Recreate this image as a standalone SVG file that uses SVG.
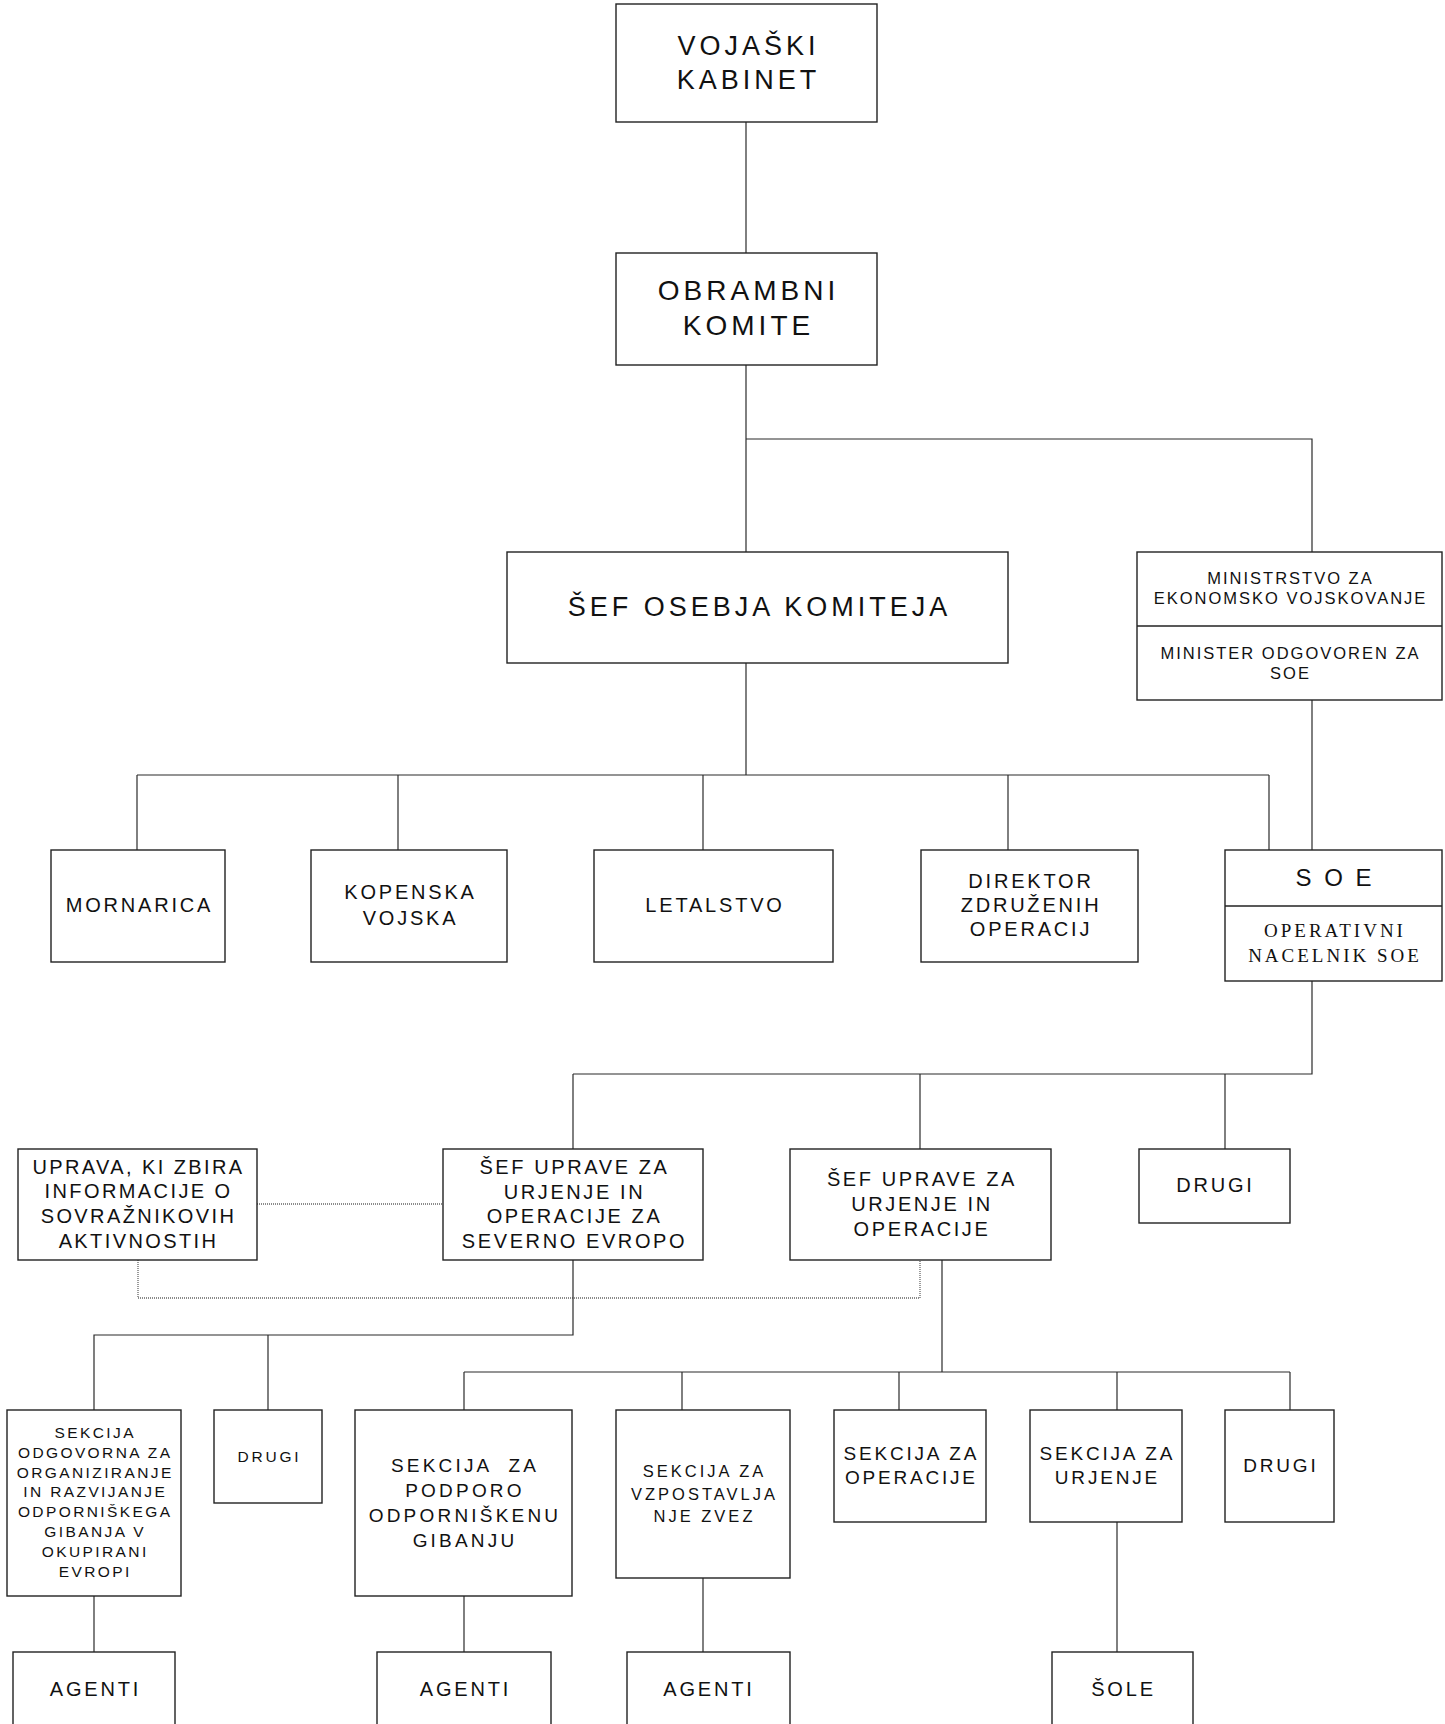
<svg xmlns="http://www.w3.org/2000/svg" width="1445" height="1724" viewBox="0 0 1445 1724">
<style>
  .box { fill: #ffffff; stroke: #222222; stroke-width: 1.4; }
  .div { stroke: #222222; stroke-width: 1.4; fill: none; }
  .ln { stroke: #2a2a2a; stroke-width: 1.2; fill: none; }
  .dot { stroke: #666666; stroke-width: 1.3; fill: none; stroke-dasharray: 1 1; }
  text { font-family: "Liberation Sans", Arial, sans-serif; fill: #111111; text-anchor: middle; }
  .t1 { font-size: 27px; letter-spacing: 4px; }
  .t2 { font-size: 20px; letter-spacing: 2.8px; }
  .t3 { font-size: 16.5px; letter-spacing: 2px; }
  .t4 { font-size: 19px; letter-spacing: 2.8px; }
  .t5 { font-size: 15.5px; letter-spacing: 2.4px; }
  .t6 { font-size: 16.5px; letter-spacing: 3px; }
  .soe { font-size: 24px; letter-spacing: 3px; }
  .serif { font-family: "Liberation Serif", "Times New Roman", serif; font-size: 19px; letter-spacing: 3px; }
</style>

<g id="connectors">
  <line class="ln" x1="746" y1="122" x2="746" y2="253"/>
  <line class="ln" x1="746" y1="365" x2="746" y2="552"/>
  <polyline class="ln" points="746,439 1312,439 1312,552"/>
  <line class="ln" x1="746" y1="663" x2="746" y2="775"/>
  <line class="ln" x1="137" y1="775" x2="1269" y2="775"/>
  <line class="ln" x1="137" y1="775" x2="137" y2="850"/>
  <line class="ln" x1="398" y1="775" x2="398" y2="850"/>
  <line class="ln" x1="703" y1="775" x2="703" y2="850"/>
  <line class="ln" x1="1008" y1="775" x2="1008" y2="850"/>
  <line class="ln" x1="1269" y1="775" x2="1269" y2="850"/>
  <line class="ln" x1="1312" y1="700" x2="1312" y2="850"/>
  <polyline class="ln" points="1312,981 1312,1074 573,1074"/>
  <line class="ln" x1="573" y1="1074" x2="573" y2="1149"/>
  <line class="ln" x1="920" y1="1074" x2="920" y2="1149"/>
  <line class="ln" x1="1225" y1="1074" x2="1225" y2="1149"/>
  <line class="dot" x1="257" y1="1204" x2="443" y2="1204"/>
  <polyline class="dot" points="138,1260 138,1298 920,1298 920,1260"/>
  <polyline class="ln" points="573,1260 573,1335 94,1335 94,1410"/>
  <line class="ln" x1="268" y1="1335" x2="268" y2="1410"/>
  <line class="ln" x1="942" y1="1260" x2="942" y2="1372"/>
  <line class="ln" x1="464" y1="1372" x2="1290" y2="1372"/>
  <line class="ln" x1="464" y1="1372" x2="464" y2="1410"/>
  <line class="ln" x1="682" y1="1372" x2="682" y2="1410"/>
  <line class="ln" x1="899" y1="1372" x2="899" y2="1410"/>
  <line class="ln" x1="1117" y1="1372" x2="1117" y2="1410"/>
  <line class="ln" x1="1290" y1="1372" x2="1290" y2="1410"/>
  <line class="ln" x1="94" y1="1596" x2="94" y2="1652"/>
  <line class="ln" x1="464" y1="1596" x2="464" y2="1652"/>
  <line class="ln" x1="703" y1="1578" x2="703" y2="1652"/>
  <line class="ln" x1="1117" y1="1522" x2="1117" y2="1652"/>
</g>

<g id="vojaski-kabinet">
  <rect class="box" x="616" y="4" width="261" height="118"/>
  <text class="t1"><tspan x="748.5" y="55">VOJAŠKI</tspan><tspan x="748.5" y="89">KABINET</tspan></text>
</g>
<g id="obrambni-komite">
  <rect class="box" x="616" y="253" width="261" height="112"/>
  <text class="t1" style="font-size:28px"><tspan x="748.5" y="300">OBRAMBNI</tspan><tspan x="748.5" y="335">KOMITE</tspan></text>
</g>
<g id="sef-osebja">
  <rect class="box" x="507" y="552" width="501" height="111"/>
  <text class="t1"><tspan x="759.5" y="616">ŠEF OSEBJA KOMITEJA</tspan></text>
</g>
<g id="ministrstvo">
  <rect class="box" x="1137" y="552" width="305" height="148"/>
  <line class="div" x1="1137" y1="626" x2="1442" y2="626"/>
  <text class="t3"><tspan x="1290.5" y="584">MINISTRSTVO ZA</tspan><tspan x="1290.5" y="604">EKONOMSKO VOJSKOVANJE</tspan></text>
  <text class="t3"><tspan x="1290.5" y="659">MINISTER ODGOVOREN ZA</tspan><tspan x="1290.5" y="679">SOE</tspan></text>
</g>
<g id="mornarica">
  <rect class="box" x="51" y="850" width="174" height="112"/>
  <text class="t2"><tspan x="139.5" y="912">MORNARICA</tspan></text>
</g>
<g id="kopenska-vojska">
  <rect class="box" x="311" y="850" width="196" height="112"/>
  <text class="t2"><tspan x="410.5" y="899">KOPENSKA</tspan><tspan x="410.5" y="925">VOJSKA</tspan></text>
</g>
<g id="letalstvo">
  <rect class="box" x="594" y="850" width="239" height="112"/>
  <text class="t2"><tspan x="715" y="912">LETALSTVO</tspan></text>
</g>
<g id="direktor">
  <rect class="box" x="921" y="850" width="217" height="112"/>
  <text class="t2"><tspan x="1031" y="888">DIREKTOR</tspan><tspan x="1031" y="912">ZDRUŽENIH</tspan><tspan x="1031" y="936">OPERACIJ</tspan></text>
</g>
<g id="soe">
  <rect class="box" x="1225" y="850" width="217" height="131"/>
  <line class="div" x1="1225" y1="906" x2="1442" y2="906"/>
  <text class="soe"><tspan x="1335" y="886">S O E</tspan></text>
  <text class="serif"><tspan x="1335" y="937">OPERATIVNI</tspan><tspan x="1335" y="962">NACELNIK SOE</tspan></text>
</g>
<g id="uprava">
  <rect class="box" x="18" y="1149" width="239" height="111"/>
  <text class="t2" style="letter-spacing:2.4px"><tspan x="138.5" y="1174">UPRAVA, KI ZBIRA</tspan><tspan x="138.5" y="1198">INFORMACIJE O</tspan><tspan x="138.5" y="1223">SOVRAŽNIKOVIH</tspan><tspan x="138.5" y="1248">AKTIVNOSTIH</tspan></text>
</g>
<g id="sef-uprave-severno">
  <rect class="box" x="443" y="1149" width="260" height="111"/>
  <text class="t2" style="letter-spacing:2.6px"><tspan x="574.5" y="1174">ŠEF UPRAVE ZA</tspan><tspan x="574.5" y="1199">URJENJE IN</tspan><tspan x="574.5" y="1223">OPERACIJE ZA</tspan><tspan x="574.5" y="1248">SEVERNO EVROPO</tspan></text>
</g>
<g id="sef-uprave">
  <rect class="box" x="790" y="1149" width="261" height="111"/>
  <text class="t2" style="letter-spacing:2.6px"><tspan x="922" y="1186">ŠEF UPRAVE ZA</tspan><tspan x="922" y="1211">URJENJE IN</tspan><tspan x="922" y="1236">OPERACIJE</tspan></text>
</g>
<g id="drugi-1">
  <rect class="box" x="1139" y="1149" width="151" height="74"/>
  <text class="t2"><tspan x="1215.5" y="1192">DRUGI</tspan></text>
</g>
<g id="sekcija-odgovorna">
  <rect class="box" x="7" y="1410" width="174" height="186"/>
  <text class="t5"><tspan x="95.2" y="1438">SEKCIJA</tspan><tspan x="95.2" y="1458">ODGOVORNA ZA</tspan><tspan x="95.2" y="1478">ORGANIZIRANJE</tspan><tspan x="95.2" y="1497">IN RAZVIJANJE</tspan><tspan x="95.2" y="1517">ODPORNIŠKEGA</tspan><tspan x="95.2" y="1537">GIBANJA V</tspan><tspan x="95.2" y="1557">OKUPIRANI</tspan><tspan x="95.2" y="1577">EVROPI</tspan></text>
</g>
<g id="drugi-2">
  <rect class="box" x="214" y="1410" width="108" height="93"/>
  <text class="t5" style="letter-spacing:2.8px"><tspan x="269.4" y="1462">DRUGI</tspan></text>
</g>
<g id="sekcija-podporo">
  <rect class="box" x="355" y="1410" width="217" height="186"/>
  <text class="t4" style="letter-spacing:3.2px" xml:space="preserve"><tspan x="465" y="1472" style="white-space:pre">SEKCIJA  ZA</tspan><tspan x="465" y="1497">PODPORO</tspan><tspan x="465" y="1522">ODPORNIŠKENU</tspan><tspan x="465" y="1547">GIBANJU</tspan></text>
</g>
<g id="sekcija-vzpostavlja">
  <rect class="box" x="616" y="1410" width="174" height="168"/>
  <text class="t6"><tspan x="704.5" y="1477">SEKCIJA ZA</tspan><tspan x="704.5" y="1500">VZPOSTAVLJA</tspan><tspan x="704.5" y="1522">NJE ZVEZ</tspan></text>
</g>
<g id="sekcija-operacije">
  <rect class="box" x="834" y="1410" width="152" height="112"/>
  <text class="t4"><tspan x="911.4" y="1460">SEKCIJA ZA</tspan><tspan x="911.4" y="1484">OPERACIJE</tspan></text>
</g>
<g id="sekcija-urjenje">
  <rect class="box" x="1030" y="1410" width="152" height="112"/>
  <text class="t4"><tspan x="1107.4" y="1460">SEKCIJA ZA</tspan><tspan x="1107.4" y="1484">URJENJE</tspan></text>
</g>
<g id="drugi-3">
  <rect class="box" x="1225" y="1410" width="109" height="112"/>
  <text class="t4"><tspan x="1280.9" y="1472">DRUGI</tspan></text>
</g>
<g id="agenti-1">
  <rect class="box" x="13" y="1652" width="162" height="100"/>
  <text class="t2"><tspan x="95.5" y="1696">AGENTI</tspan></text>
</g>
<g id="agenti-2">
  <rect class="box" x="377" y="1652" width="174" height="100"/>
  <text class="t2"><tspan x="465.5" y="1696">AGENTI</tspan></text>
</g>
<g id="agenti-3">
  <rect class="box" x="627" y="1652" width="163" height="100"/>
  <text class="t2"><tspan x="709" y="1696">AGENTI</tspan></text>
</g>
<g id="sole">
  <rect class="box" x="1052" y="1652" width="141" height="100"/>
  <text class="t2"><tspan x="1123.5" y="1696">ŠOLE</tspan></text>
</g>
</svg>
